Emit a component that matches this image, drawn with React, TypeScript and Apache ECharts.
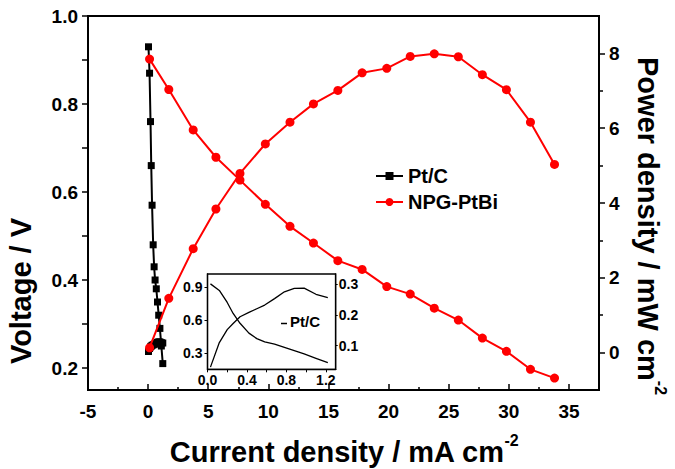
import React, { useEffect, useRef } from 'react';
import * as echarts from 'echarts';

const ptcCurrent = [0.03, 0.12, 0.2, 0.26, 0.33, 0.42, 0.5, 0.58, 0.68, 0.78, 0.88, 0.98, 1.1, 1.22];
const ptcVoltage = [0.93, 0.87, 0.76, 0.66, 0.57, 0.48, 0.43, 0.4, 0.38, 0.35, 0.32, 0.29, 0.25, 0.21];
const ptcPower = [0.03, 0.11, 0.152, 0.172, 0.194, 0.208, 0.22, 0.232, 0.253, 0.275, 0.286, 0.287, 0.267, 0.256];

// NPG-PtBi
const npgCurrent = [0.12, 1.72, 3.75, 5.64, 7.64, 9.75, 11.8, 13.75, 15.78, 17.8, 19.85, 21.8, 23.8, 25.8, 27.8, 29.8, 31.8, 33.8];
const npgVoltage = [0.902, 0.833, 0.741, 0.679, 0.627, 0.572, 0.522, 0.484, 0.444, 0.424, 0.385, 0.368, 0.336, 0.309, 0.268, 0.238, 0.197, 0.177];
const npgPower = [0.13, 1.45, 2.78, 3.84, 4.79, 5.58, 6.16, 6.65, 7.01, 7.48, 7.6, 7.92, 7.99, 7.91, 7.43, 7.03, 6.16, 5.03];

// tick / label values
const xMajor = [-5, 0, 5, 10, 15, 20, 25, 30, 35];
const xMinor = [-2.5, 2.5, 7.5, 12.5, 17.5, 22.5, 27.5, 32.5];
const leftTicks = [0.2, 0.3, 0.4, 0.5, 0.6, 0.7, 0.8, 0.9, 1.0];
const leftLabels = [0.2, 0.4, 0.6, 0.8, 1.0];
const rightMajor = [0, 2, 4, 6, 8];
const rightMinor = [1, 3, 5, 7];
const insetXLabels = [0, 0.4, 0.8, 1.2];
const insetXTicks = [0, 0.2, 0.4, 0.6, 0.8, 1.0, 1.2];
const insetLeftLabels = [0.3, 0.6, 0.9];
const insetRightLabels = [0.1, 0.2, 0.3];

const FONT = '"Liberation Sans", Arial, Helvetica, sans-serif';

const zip = (a: number[], b: number[]) => a.map((v, i) => [v, b[i]]);

export default function App() {
  const ref = useRef<HTMLDivElement>(null);
  useEffect(() => {
    if (!ref.current) return;
    const chart = echarts.init(ref.current, undefined, { renderer: 'svg' });
    const lbl = (size: number) => ({
      fontSize: size,
      fontWeight: 'bold' as const,
      fontFamily: FONT,
      color: '#000',
    });
    const axisLine = (w: number) => ({ show: true, onZero: false, lineStyle: { color: '#000', width: w } });
    const option: any = {
      animation: false,
      backgroundColor: '#fff',
      grid: [
        { left: 88, right: 76, top: 16, bottom: 79, show: true, borderColor: '#000', borderWidth: 2, backgroundColor: 'transparent', containLabel: false, outerBoundsMode: 'none' },
        { left: 207.5, top: 274, width: 128.2, height: 95.3, show: true, borderColor: '#000', borderWidth: 1.3, backgroundColor: '#fff', containLabel: false, outerBoundsMode: 'none' },
      ],
      xAxis: [
        {
          type: 'value', gridIndex: 0, min: -5, max: 37.5, position: 'bottom',
          axisLine: axisLine(2),
          axisTick: { show: true, inside: true, length: 6, lineStyle: { color: '#000', width: 1.5 }, customValues: xMajor },
          axisLabel: { ...lbl(19), margin: 12, customValues: xMajor, formatter: (v: number) => String(Math.round(v)) },
          splitLine: { show: false },
        },
        {
          type: 'value', gridIndex: 0, min: -5, max: 37.5, position: 'bottom',
          axisLine: { show: false, onZero: false },
          axisTick: { show: true, inside: true, length: 3, lineStyle: { color: '#000', width: 1.5 }, customValues: xMinor },
          axisLabel: { show: false },
          splitLine: { show: false },
        },
        {
          type: 'value', gridIndex: 1, min: 0, max: 1.3, position: 'bottom',
          axisLine: axisLine(1.3),
          axisTick: { show: true, inside: false, length: 3, lineStyle: { color: '#000', width: 1 }, customValues: insetXTicks },
          axisLabel: { ...lbl(14), margin: 4, customValues: insetXLabels, formatter: (v: number) => v.toFixed(1) },
          splitLine: { show: false },
        },
      ],
      yAxis: [
        {
          type: 'value', gridIndex: 0, min: 0.15, max: 1.0, position: 'left',
          axisLine: axisLine(2),
          axisTick: { show: true, inside: false, length: 6, lineStyle: { color: '#000', width: 1.5 }, customValues: leftTicks },
          axisLabel: { ...lbl(19), margin: 10, customValues: leftLabels, formatter: (v: number) => v.toFixed(1) },
          splitLine: { show: false },
        },
        {
          type: 'value', gridIndex: 0, min: -1, max: 9, position: 'right',
          axisLine: axisLine(2),
          axisTick: { show: true, inside: false, length: 6, lineStyle: { color: '#000', width: 1.5 }, customValues: rightMajor },
          axisLabel: { ...lbl(19), margin: 10, customValues: rightMajor, formatter: (v: number) => String(Math.round(v)) },
          splitLine: { show: false },
        },
        {
          type: 'value', gridIndex: 0, min: -1, max: 9, position: 'right',
          axisLine: { show: false, onZero: false },
          axisTick: { show: true, inside: false, length: 4, lineStyle: { color: '#000', width: 1.5 }, customValues: rightMinor },
          axisLabel: { show: false },
          splitLine: { show: false },
        },
        {
          type: 'value', gridIndex: 1, min: 0.15, max: 1.02, position: 'left',
          axisLine: axisLine(1.3),
          axisTick: { show: true, inside: false, length: 3, lineStyle: { color: '#000', width: 1 }, customValues: insetLeftLabels },
          axisLabel: { ...lbl(14), margin: 5, customValues: insetLeftLabels, formatter: (v: number) => v.toFixed(1) },
          splitLine: { show: false },
        },
        {
          type: 'value', gridIndex: 1, min: 0.023, max: 0.333, position: 'right',
          axisLine: axisLine(1.3),
          axisTick: { show: true, inside: false, length: 2, lineStyle: { color: '#000', width: 1 }, customValues: insetRightLabels },
          axisLabel: { ...lbl(14), margin: 3, customValues: insetRightLabels, formatter: (v: number) => v.toFixed(1) },
          splitLine: { show: false },
        },
      ],
      legend: {
        data: ['Pt/C', 'NPG-PtBi'],
        orient: 'vertical',
        left: 370,
        top: 161,
        itemWidth: 27,
        itemHeight: 10,
        itemGap: 6,
        selectedMode: false,
        textStyle: { ...lbl(20) },
      },
      series: [
        {
          name: 'Pt/C', type: 'line', xAxisIndex: 0, yAxisIndex: 0,
          data: zip(ptcCurrent, ptcVoltage), symbol: 'rect', symbolSize: 7,
          lineStyle: { color: '#000', width: 2 }, itemStyle: { color: '#000' }, z: 2,
        },
        {
          name: 'Pt/C', type: 'line', xAxisIndex: 0, yAxisIndex: 1,
          data: zip(ptcCurrent, ptcPower), symbol: 'rect', symbolSize: 7,
          lineStyle: { color: '#000', width: 2 }, itemStyle: { color: '#000' }, z: 2,
        },
        {
          name: 'NPG-PtBi', type: 'line', xAxisIndex: 0, yAxisIndex: 0,
          data: zip(npgCurrent, npgVoltage), symbol: 'circle', symbolSize: 9,
          lineStyle: { color: '#ff0000', width: 2 }, itemStyle: { color: '#ff0000' }, z: 3,
        },
        {
          name: 'NPG-PtBi', type: 'line', xAxisIndex: 0, yAxisIndex: 1,
          data: zip(npgCurrent, npgPower), symbol: 'circle', symbolSize: 9,
          lineStyle: { color: '#ff0000', width: 2 }, itemStyle: { color: '#ff0000' }, z: 3,
        },
        {
          name: 'inset-voltage', type: 'line', xAxisIndex: 2, yAxisIndex: 3,
          data: zip(ptcCurrent, ptcVoltage), symbol: 'none',
          lineStyle: { color: '#000', width: 1.3 }, itemStyle: { color: '#000' },
        },
        {
          name: 'inset-power', type: 'line', xAxisIndex: 2, yAxisIndex: 4,
          data: zip(ptcCurrent, ptcPower), symbol: 'none',
          lineStyle: { color: '#000', width: 1.3 }, itemStyle: { color: '#000' },
        },
      ],
      graphic: [
        {
          type: 'text', x: 21, y: 291, rotation: Math.PI / 2,
          style: {
            text: 'Voltage / V', fontSize: 29, fontWeight: 'bold', fontFamily: FONT,
            fill: '#000', textAlign: 'center', verticalAlign: 'middle',
          },
        },
        {
          type: 'text', x: 344, y: 452,
          style: {
            text: '{m|Current density / mA cm}{s|-2}',
            fill: '#000', textAlign: 'center', verticalAlign: 'middle',
            rich: {
              m: { fontSize: 29, fontWeight: 'bold', fontFamily: FONT, lineHeight: 40, fill: '#000' },
              s: { fontSize: 16, fontWeight: 'bold', fontFamily: FONT, verticalAlign: 'top', fill: '#000' },
            },
          },
        },
        {
          type: 'text', x: 648, y: 226, rotation: -Math.PI / 2,
          style: {
            text: '{m|Power density / mW cm}{s|-2}',
            fill: '#000', textAlign: 'center', verticalAlign: 'middle',
            rich: {
              m: { fontSize: 29, fontWeight: 'bold', fontFamily: FONT, lineHeight: 40, fill: '#000' },
              s: { fontSize: 16, fontWeight: 'bold', fontFamily: FONT, verticalAlign: 'top', fill: '#000' },
            },
          },
        },
        {
          type: 'line', shape: { x1: 281, y1: 323.5, x2: 287, y2: 323.5 },
          style: { stroke: '#000', lineWidth: 1.5 },
        },
        {
          type: 'text', x: 290, y: 321,
          style: {
            text: 'Pt/C', fontSize: 15, fontWeight: 'bold', fontFamily: FONT,
            fill: '#000', textAlign: 'left', verticalAlign: 'middle',
          },
        },
      ],
    };
    chart.setOption(option);
    return () => chart.dispose();
  }, []);
  return (
    <div
      ref={ref}
      style={{ position: 'fixed', left: 0, top: 0, width: 675, height: 469, background: '#fff' }}
    />
  );
}
